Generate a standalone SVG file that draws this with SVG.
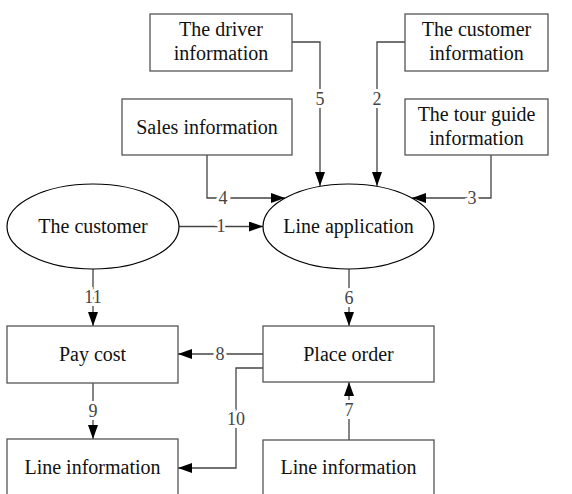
<svg xmlns="http://www.w3.org/2000/svg" width="572" height="494" viewBox="0 0 572 494">
<defs>
<marker id="ah" viewBox="0 0 14 10" refX="14" refY="5" markerWidth="14" markerHeight="10" markerUnits="userSpaceOnUse" orient="auto">
<path d="M0,0 L14,5 L0,10 Z" fill="#000"/>
</marker>
<style>
.box{fill:#fff;stroke:#555;stroke-width:1.3}
.ell{fill:#fff;stroke:#000;stroke-width:1.2}
.t{font-family:"Liberation Serif","Times New Roman",serif;font-size:20px;fill:#111;text-anchor:middle}
.c{fill:none;stroke:#444;stroke-width:1.3}
.a{marker-end:url(#ah)}
.l{font-family:"Liberation Serif","Times New Roman",serif;font-size:18px;fill:#444;text-anchor:middle;stroke:#fff;stroke-width:6;paint-order:stroke}
</style>
</defs>
<rect width="572" height="494" fill="#fff"/>
<g id="connectors">
<polyline class="c a" points="292,42 320,42 320,186"/>
<polyline class="c a" points="405,42 377,42 377,186"/>
<polyline class="c a" points="207,155 207,198 285,198"/>
<polyline class="c a" points="491,155 491,198 412,198"/>
<line class="c a" x1="179" y1="226.5" x2="263" y2="226.5"/>
<line class="c a" x1="93" y1="269" x2="93" y2="326"/>
<line class="c a" x1="349" y1="269" x2="349" y2="326"/>
<line class="c a" x1="263" y1="354" x2="178" y2="354"/>
<polyline class="c a" points="263,368 236,368 236,468 178,468"/>
<line class="c a" x1="93" y1="383" x2="93" y2="439"/>
<line class="c a" x1="349" y1="440" x2="349" y2="382"/>
<text class="l" x="320" y="105">5</text>
<text class="l" x="377" y="105">2</text>
<text class="l" x="223" y="204">4</text>
<text class="l" x="472" y="204">3</text>
<text class="l" x="221" y="232">1</text>
<text class="l" x="93" y="303">11</text>
<text class="l" x="349" y="304">6</text>
<text class="l" x="220" y="360">8</text>
<text class="l" x="93" y="417">9</text>
<text class="l" x="236" y="425">10</text>
<text class="l" x="349" y="416">7</text>
</g>
<g id="driver"><rect class="box" x="150" y="14" width="142" height="57"/><text class="t" x="221" y="36">The driver</text><text class="t" x="221" y="60">information</text></g>
<g id="customerinfo"><rect class="box" x="405" y="14" width="143" height="57"/><text class="t" x="476.5" y="36">The customer</text><text class="t" x="476.5" y="60">information</text></g>
<g id="sales"><rect class="box" x="122" y="99" width="170" height="56"/><text class="t" x="207" y="133.5">Sales information</text></g>
<g id="tourguide"><rect class="box" x="405" y="99" width="143" height="56"/><text class="t" x="476.5" y="121">The tour guide</text><text class="t" x="476.5" y="145">information</text></g>
<g id="customer"><ellipse class="ell" cx="93" cy="226.5" rx="86" ry="42.5"/><text class="t" x="93" y="233">The customer</text></g>
<g id="lineapp"><ellipse class="ell" cx="348.5" cy="226.5" rx="85.5" ry="42.5"/><text class="t" x="348.5" y="233">Line application</text></g>
<g id="paycost"><rect class="box" x="7" y="326" width="171" height="57"/><text class="t" x="92.5" y="361">Pay cost</text></g>
<g id="placeorder"><rect class="box" x="263" y="326" width="171" height="56"/><text class="t" x="348.5" y="361">Place order</text></g>
<g id="lineinfo1"><rect class="box" x="7" y="439" width="171" height="70"/><text class="t" x="92.5" y="474">Line information</text></g>
<g id="lineinfo2"><rect class="box" x="263" y="440" width="171" height="70"/><text class="t" x="348.5" y="474">Line information</text></g>
</svg>
